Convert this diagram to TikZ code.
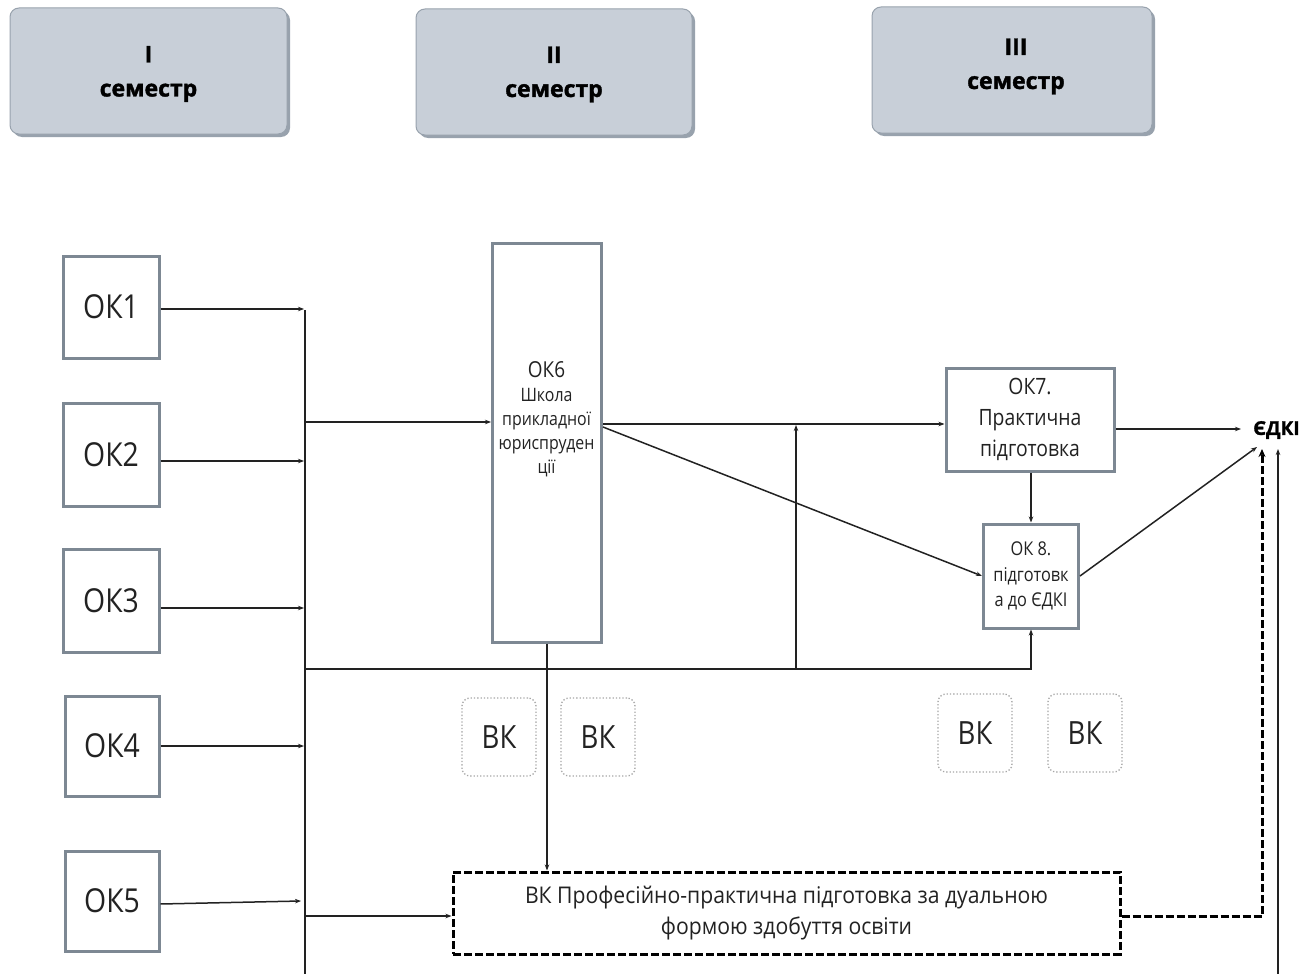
\documentclass[tikz,border=0pt]{standalone}
\usepackage{fontspec}
\setmainfont{Open Sans}
\newfontfamily\condf[FakeStretch=0.86]{Open Sans}
\newfontfamily\dualf[FakeStretch=0.92]{Open Sans}
\newfontfamily\semf[FakeBold=1.6]{Open Sans Bold}
\usetikzlibrary{arrows.meta,calc}
\definecolor{semfill}{HTML}{C8CFD8}
\definecolor{semshadow}{HTML}{98A2AD}
\definecolor{boxline}{HTML}{7D8893}
\definecolor{lineclr}{HTML}{222222}
\definecolor{txt}{HTML}{222222}
\begin{document}
\begin{tikzpicture}[x=1pt,y=-1pt,
  sem/.style={draw=semshadow,line width=1pt,fill=semfill,rounded corners=9pt,inner sep=0pt,
     minimum height=126pt},
  semtext/.style={align=center,font=\semf\fontsize{23}{34}\selectfont,text=black,inner sep=0pt},
  okbox/.style={draw=boxline,line width=3pt,fill=white,inner sep=0pt,align=center,text=txt,
     font=\condf\fontsize{33}{34}\selectfont},
  bigbox/.style={draw=boxline,line width=3pt,fill=white,inner sep=0pt,align=center,text=txt},
  vkbox/.style={draw=gray!70,dotted,line width=1.3pt,rounded corners=8pt,minimum width=74pt,
     minimum height=78pt,inner sep=0pt,text=txt,font=\condf\fontsize{32}{34}\selectfont},
  conn/.style={draw=lineclr,line width=1.5pt},
  arr/.style={conn,-{Stealth[length=6pt,width=4.5pt]}},
  dashln/.style={draw=black,line width=3pt,dash pattern=on 8pt off 3pt},
]
\useasboundingbox (0,0) rectangle (1302,974);
% semester boxes with shadow
\foreach \cx/\cy/\w in {148.5/71/277, 554/72/276, 1012/70/280}{
  \fill[semshadow,rounded corners=9pt] (\cx-\w/2+3,\cy-63+3) rectangle (\cx+\w/2+3,\cy+63+3);
}
\node[sem,minimum width=277pt] (s1) at (148.5,71) {};
\node[sem,minimum width=276pt] (s2) at (554,72) {};
\node[sem,minimum width=280pt] (s3) at (1012,70) {};
\node[semtext] (s1t) at (148.5,74) {I\\семестр};
\node[semtext] (s2t) at (554,74.5) {II\\семестр};
\node[semtext] (s3t) at (1016,66.5) {III\\семестр};

% OK boxes
\node[okbox,minimum width=96pt,minimum height=102pt] (ok1) at (111,307) {ОК1};
\node[okbox,minimum width=96pt,minimum height=103pt] (ok2) at (111,454.5) {ОК2};
\node[okbox,minimum width=96pt,minimum height=103pt] (ok3) at (111,600.5) {ОК3};
\node[okbox,minimum width=94pt,minimum height=100pt] (ok4) at (112,746) {ОК4};
\node[okbox,minimum width=94pt,minimum height=100pt] (ok5) at (112,901) {ОК5};

\node[bigbox,minimum width=109pt,minimum height=399pt] (ok6) at (547,442.5) {};
\node[text=txt,align=center,font=\condf\fontsize{18.5}{24}\selectfont,inner sep=0pt] (ok6t) at (546.5,419)
  {{\fontsize{22}{24}\selectfont ОК6}\\Школа\\прикладної\\юриспруден\\ції};

\node[bigbox,minimum width=168pt,minimum height=103pt,font=\condf\fontsize{22.5}{31}\selectfont] (ok7) at (1030,419.5)
  {ОК7.\\Практична\\підготовка};
\node[bigbox,minimum width=95pt,minimum height=104pt,font=\condf\fontsize{19}{25.5}\selectfont] (ok8) at (1031,576)
  {ОК 8.\\підготовк\\а до ЄДКІ};

\node[vkbox] (vk1) at (499,737) {ВК};
\node[vkbox] (vk2) at (598,737) {ВК};
\node[vkbox] (vk3) at (975,733) {ВК};
\node[vkbox] (vk4) at (1085,733) {ВК};

\node[dashln,minimum width=667pt,minimum height=82pt,
  inner sep=0pt,align=center,text=txt,font=\dualf\fontsize{23}{31}\selectfont] (dual) at (786.5,913)
  {ВК Професійно-практична підготовка за дуальною\\формою здобуття освіти};

\node[font=\semf\fontsize{19}{22}\selectfont,text=black,inner sep=0pt,anchor=west] (edki) at (1253,430) {ЄДКІ};

% coordinates
\coordinate (trtop) at (305,310);
\coordinate (trbot) at (305,974);
\coordinate (j1) at (304,309);
\coordinate (j2) at (304,461);
\coordinate (j3) at (304,608);
\coordinate (j4) at (304,746);
\coordinate (j5) at (301,901);
\coordinate (hb) at (305,669);
\coordinate (vb) at (796,669);
\coordinate (vt) at (796,425);
\coordinate (ein) at (1241,429);
\coordinate (e8) at (1257,447);
\coordinate (edash) at (1262,449);
\coordinate (ethin) at (1278,449);
\coordinate (ethinb) at (1278,974);

% trunk
\draw[conn] (trtop) -- (trbot);
\draw[arr] (ok1.east |- j1) -- (j1);
\draw[arr] (ok2.east |- j2) -- (j2);
\draw[arr] (ok3.east |- j3) -- (j3);
\draw[arr] (ok4.east |- j4) -- (j4);
\draw[arr] (ok5.east |- 0,904) -- (j5);
\draw[arr] (305,422) -- (ok6.west |- 0,422);
\draw[arr] (hb) -| (ok8.south);
\draw[arr] (vb) -- (vt);
\draw[arr] (305,916) -- (dual.west |- 0,916);

% from OK6
\draw[arr] (ok6.east |- 0,424) -- (ok7.west |- 0,424);
\draw[arr] (ok6.east |- 0,427) -- (ok8.west);
\draw[arr] (ok6.south) -- (ok6.south |- dual.north);

% to EDKI
\draw[arr] (ok7.east |- ein) -- (ein);
\draw[arr] (ok7.south -| ok8.north) -- (ok8.north);
\draw[arr] (ok8.east) -- (e8);
\draw[dashln,-{Stealth[length=8pt,width=7pt]}] (dual.east |- 0,916) -| (edash);
\draw[arr] (ethinb) -- (ethin);
\end{tikzpicture}
\end{document}
